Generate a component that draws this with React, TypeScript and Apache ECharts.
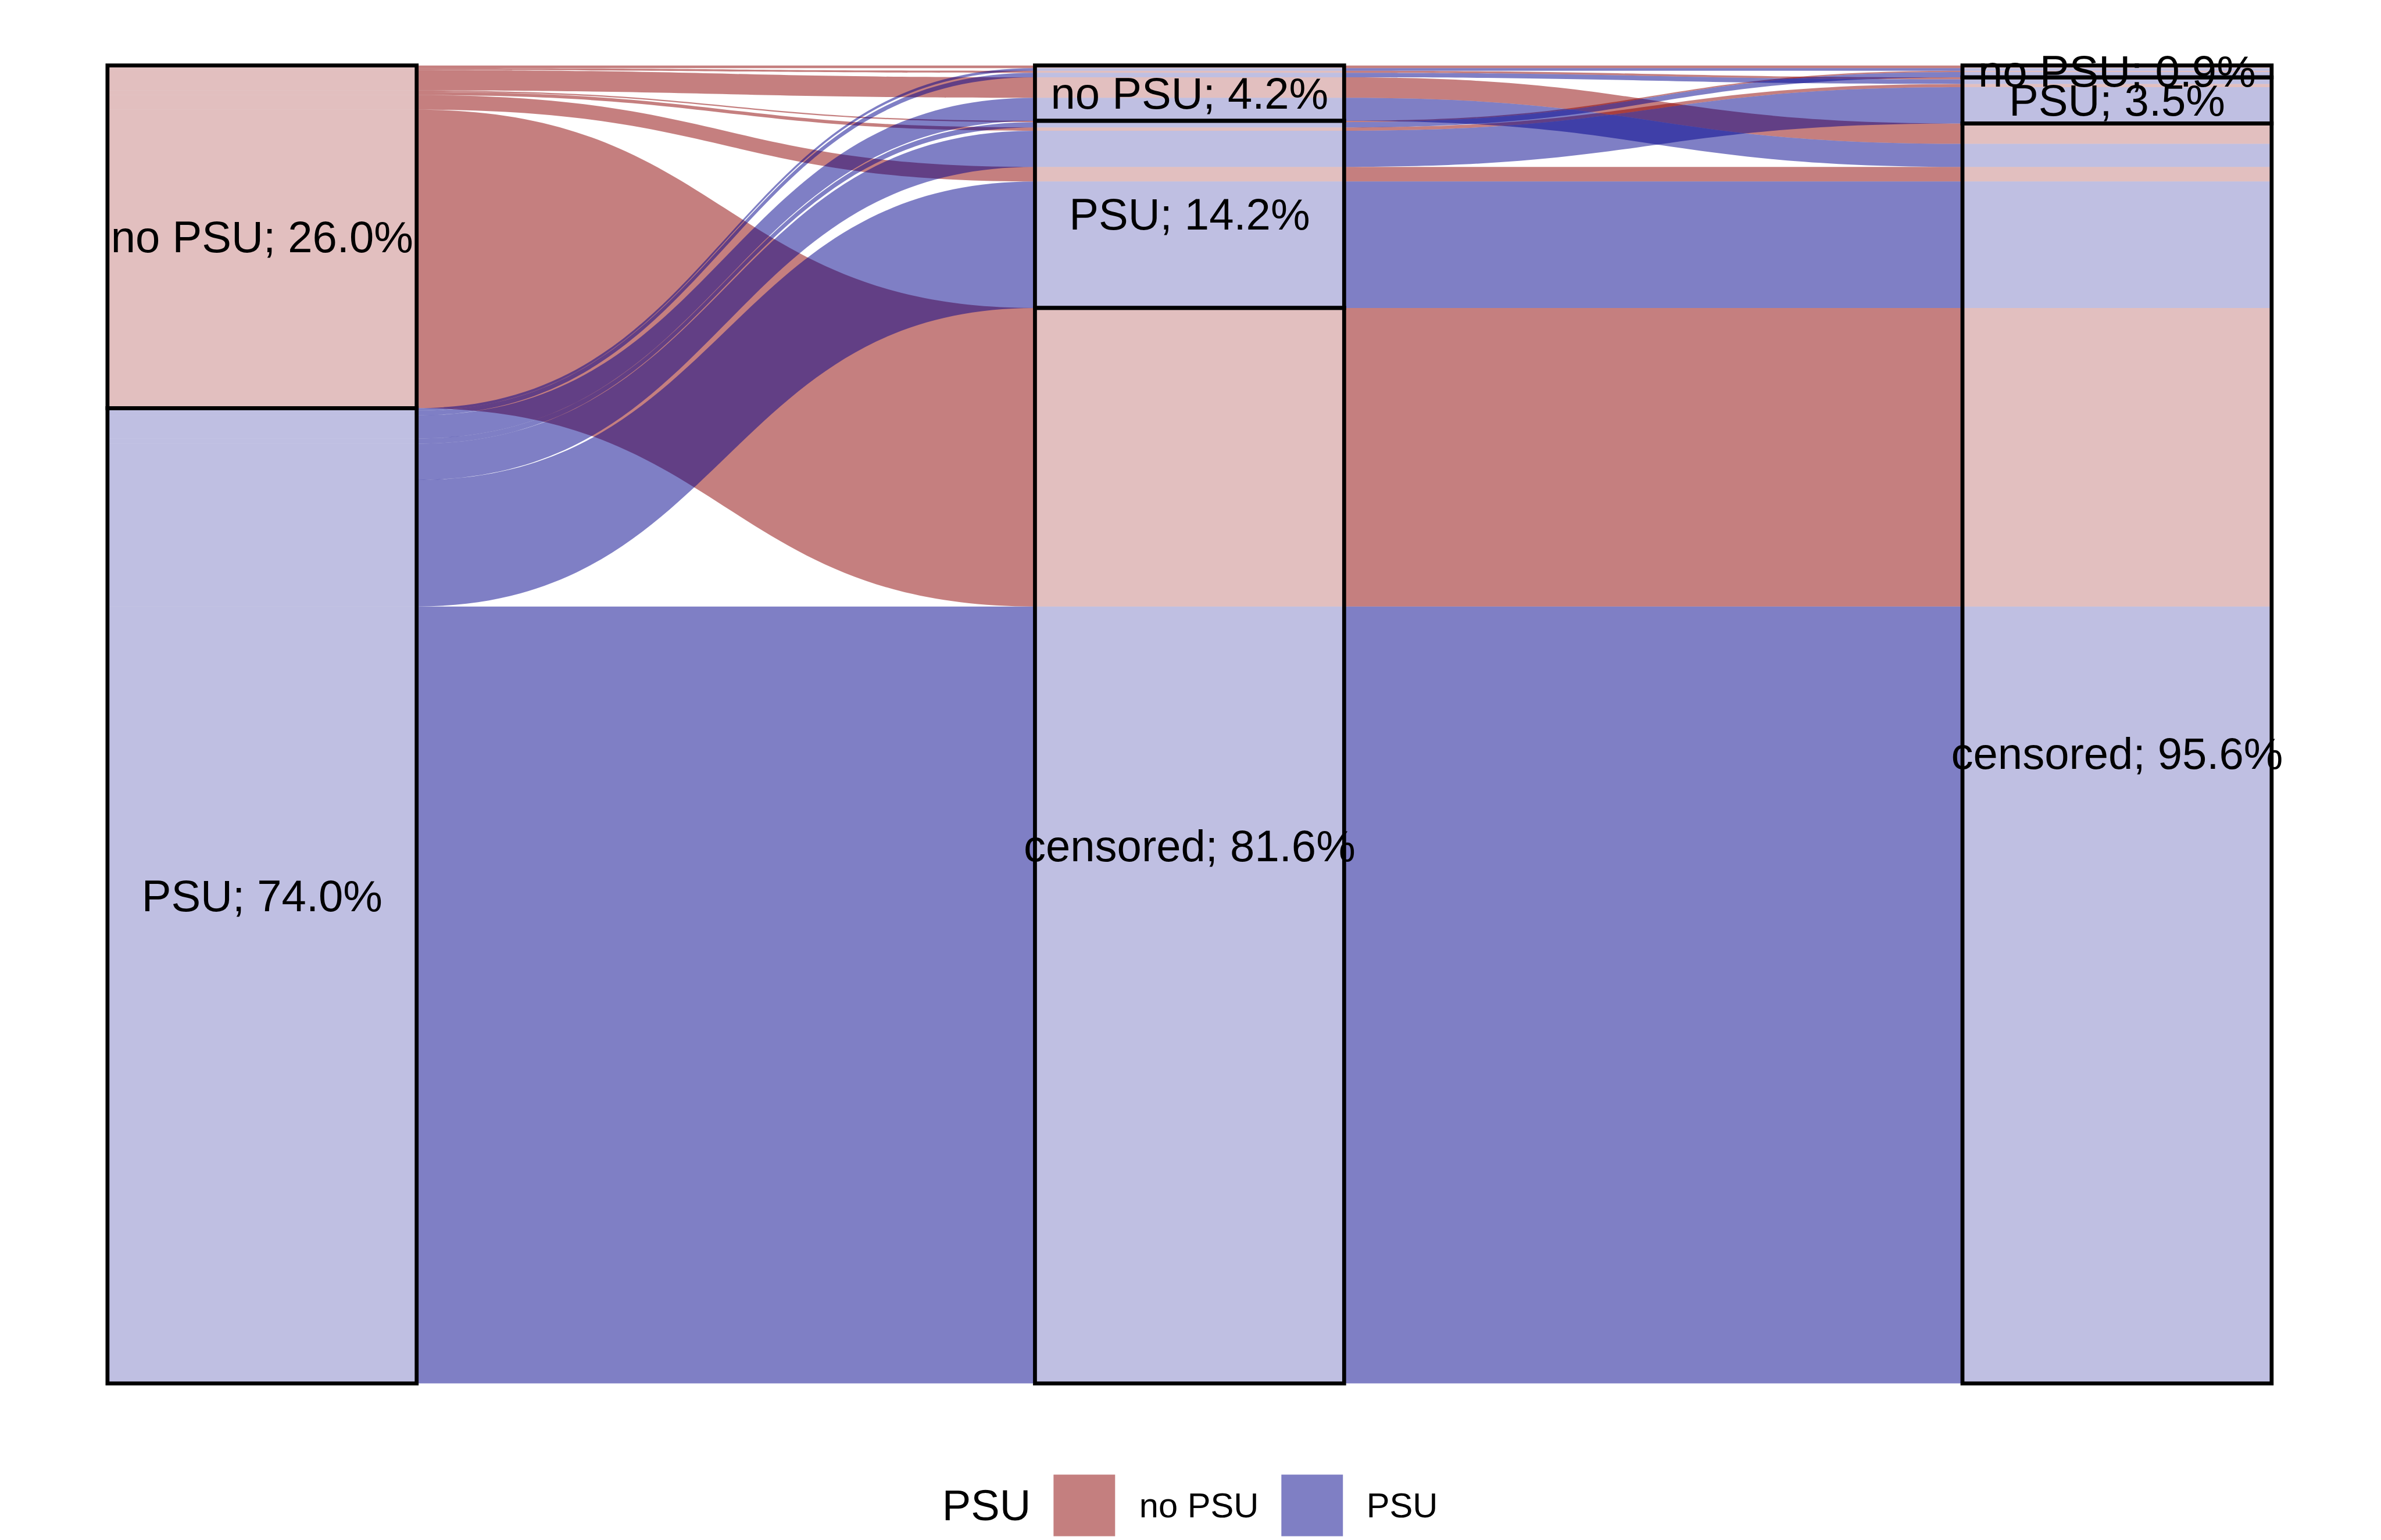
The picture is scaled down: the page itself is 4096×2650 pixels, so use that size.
import React, { useEffect, useRef } from "react";
import * as echarts from "echarts";

const SCALE = 0.963;
const FONT = '"Liberation Sans", Arial, Helvetica, sans-serif';

// strata order per axis (top to bottom)
const strataOrder = ["no PSU", "PSU", "censored"];
const axisStrata = [
  ["no PSU", "PSU"],
  ["no PSU", "PSU", "censored"],
  ["no PSU", "PSU", "censored"],
];

// alluvia: state at each of the three axes, and share of patients (%)
const stage1 = ["no PSU", "no PSU", "no PSU", "no PSU", "no PSU", "no PSU", "no PSU", "PSU", "PSU", "PSU", "PSU", "PSU", "PSU", "PSU"];
const stage2 = ["no PSU", "no PSU", "no PSU", "PSU", "PSU", "PSU", "censored", "no PSU", "no PSU", "no PSU", "PSU", "PSU", "PSU", "censored"];
const stage3 = ["no PSU", "PSU", "censored", "no PSU", "PSU", "censored", "censored", "no PSU", "PSU", "censored", "no PSU", "PSU", "censored", "censored"];
const share = [0.2, 0.15, 1.55, 0.1, 0.25, 1.1, 22.65, 0.2, 0.35, 1.75, 0.4, 2.75, 9.6, 58.95];

const legendTitle = "PSU";
const legendNames = ["no PSU", "PSU"];
const flowColors = ["rgba(139,0,0,0.5)", "rgba(0,0,139,0.5)"];
const lodeColors = ["rgba(139,0,0,0.25)", "rgba(0,0,139,0.25)"];
const keyColors = ["#C47F7F", "#7F7FC4"];

const stages = [stage1, stage2, stage3];
// ordering of lodes inside a stratum: by the states at these other axes
const sortKeys = [[1, 2], [2, 0], [1, 0]];

function layout() {
  const lodePos: number[][][] = [];
  const strataPos: { name: string; y0: number; y1: number }[][] = [];
  const rank = (s: string) => strataOrder.indexOf(s);
  for (let a = 0; a < 3; a++) {
    lodePos.push([]);
    strataPos.push([]);
    let cursor = 0;
    for (const s of axisStrata[a]) {
      const members: number[] = [];
      for (let i = 0; i < share.length; i++) if (stages[a][i] === s) members.push(i);
      members.sort((p, q) => {
        for (const k of sortKeys[a]) {
          const d = rank(stages[k][p]) - rank(stages[k][q]);
          if (d !== 0) return d;
        }
        return 0;
      });
      const y0 = cursor;
      for (const i of members) {
        lodePos[a][i] = [cursor, cursor + share[i]];
        cursor += share[i];
      }
      strataPos[a].push({ name: s, y0, y1: cursor });
    }
  }
  return { lodePos, strataPos };
}

export default function App() {
  const ref = useRef<HTMLDivElement>(null);
  useEffect(() => {
    if (!ref.current) return;
    const chart = echarts.init(ref.current, null, { renderer: "svg" });
    const { lodePos, strataPos } = layout();
    const half = 1 / 6;

    const makeSeries = (g: number) => {
      const data: any[] = [];
      for (let i = 0; i < share.length; i++) {
        if (stage1[i] !== legendNames[g]) continue;
        for (let a = 0; a < 3; a++) data.push({ value: [2, 50, 0, i, a] });
        for (let a = 0; a < 2; a++) data.push({ value: [2, 50, 1, i, a] });
      }
      return {
        type: "custom",
        name: legendNames[g],
        silent: true,
        data,
        renderItem: (_p: any, api: any) => {
          const kind = api.value(2);
          const i = api.value(3);
          const a = api.value(4);
          if (kind === 0) {
            const [y0, y1] = lodePos[a][i];
            const p0 = api.coord([a + 1 - half, y0]);
            const p1 = api.coord([a + 1 + half, y1]);
            return {
              type: "rect",
              shape: { x: p0[0], y: p0[1], width: p1[0] - p0[0], height: p1[1] - p0[1] },
              style: { fill: lodeColors[g] },
            };
          }
          const xa = a + 1 + half;
          const xb = a + 2 - half;
          const [ya0, ya1] = lodePos[a][i];
          const [yb0, yb1] = lodePos[a + 1][i];
          const A0 = api.coord([xa, ya0]);
          const A1 = api.coord([xa, ya1]);
          const B0 = api.coord([xb, yb0]);
          const B1 = api.coord([xb, yb1]);
          const mx = (A0[0] + B0[0]) / 2;
          const d =
            `M${A0[0]},${A0[1]} C${mx},${A0[1]} ${mx},${B0[1]} ${B0[0]},${B0[1]} ` +
            `L${B1[0]},${B1[1]} C${mx},${B1[1]} ${mx},${A1[1]} ${A1[0]},${A1[1]} Z`;
          return { type: "path", shape: { pathData: d }, style: { fill: flowColors[g] } };
        },
      };
    };

    const strataData: any[] = [];
    for (let a = 0; a < 3; a++)
      for (let s = 0; s < strataPos[a].length; s++) strataData.push({ value: [2, 50, a, s] });

    const strataSeries = {
      type: "custom",
      silent: true,
      data: strataData,
      renderItem: (_p: any, api: any) => {
        const a = api.value(2);
        const s = api.value(3);
        const st = strataPos[a][s];
        const p0 = api.coord([a + 1 - half, st.y0]);
        const p1 = api.coord([a + 1 + half, st.y1]);
        return {
          type: "rect",
          shape: { x: p0[0], y: p0[1], width: p1[0] - p0[0], height: p1[1] - p0[1] },
          style: { fill: "none", stroke: "#000", lineWidth: 7 * SCALE },
        };
      },
    };

    const labelSeries = {
      type: "custom",
      silent: true,
      data: strataData,
      renderItem: (_p: any, api: any) => {
        const a = api.value(2);
        const s = api.value(3);
        const st = strataPos[a][s];
        const c = api.coord([a + 1, (st.y0 + st.y1) / 2]);
        return {
          type: "text",
          x: c[0],
          y: c[1],
          style: {
            text: `${st.name}; ${(st.y1 - st.y0).toFixed(1)}%`,
            fill: "#000",
            fontSize: 79 * SCALE,
            fontFamily: FONT,
            align: "center",
            verticalAlign: "middle",
          },
        };
      },
    };

    const legendY = 2690 * SCALE;
    const key = 110 * SCALE;
    const graphic = [
      {
        type: "text",
        x: 1683 * SCALE,
        y: legendY,
        style: { text: legendTitle, fill: "#000", fontSize: 77 * SCALE, fontFamily: FONT, align: "left", verticalAlign: "middle" },
      },
      { type: "rect", shape: { x: 1882 * SCALE, y: legendY - key / 2, width: key, height: key }, style: { fill: keyColors[0] } },
      {
        type: "text",
        x: 2035 * SCALE,
        y: legendY,
        style: { text: legendNames[0], fill: "#000", fontSize: 62 * SCALE, fontFamily: FONT, align: "left", verticalAlign: "middle" },
      },
      { type: "rect", shape: { x: 2289 * SCALE, y: legendY - key / 2, width: key, height: key }, style: { fill: keyColors[1] } },
      {
        type: "text",
        x: 2441 * SCALE,
        y: legendY,
        style: { text: legendNames[1], fill: "#000", fontSize: 62 * SCALE, fontFamily: FONT, align: "left", verticalAlign: "middle" },
      },
    ];

    chart.setOption({
      animation: false,
      backgroundColor: "#fff",
      grid: {
        left: 192 * SCALE,
        right: 4096 - 4058 * SCALE,
        top: 117 * SCALE,
        bottom: 2650 - 2472 * SCALE,
      },
      xAxis: { type: "value", min: 1 - 1 / 6, max: 3 + 1 / 6, show: false },
      yAxis: { type: "value", min: 0, max: 100, inverse: true, show: false },
      series: [makeSeries(0), makeSeries(1), strataSeries, labelSeries],
      graphic,
    });
    return () => chart.dispose();
  }, []);
  return (
    <div
      ref={ref}
      style={{ position: "fixed", left: 0, top: 0, width: 4096, height: 2650, background: "#fff" }}
    />
  );
}
